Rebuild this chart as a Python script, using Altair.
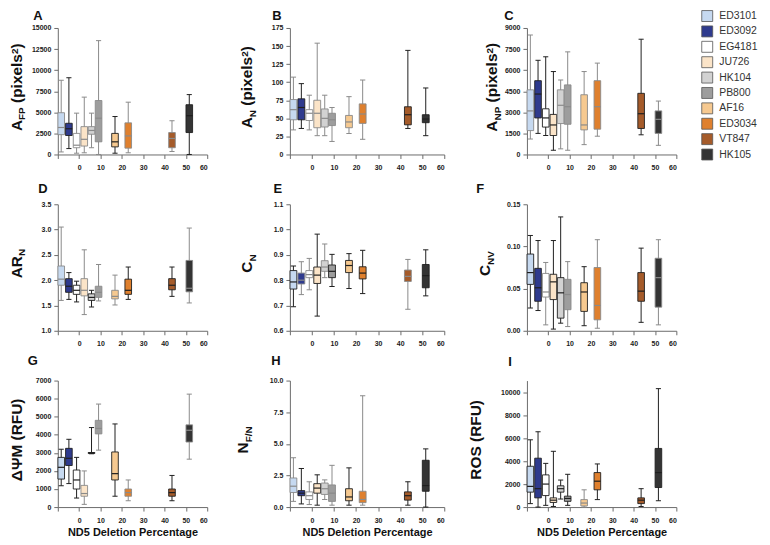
import altair as alt
import pandas as pd

FONT = "Liberation Sans"

# ---------------- data ----------------
strains = ["ED3101", "ED3092", "EG4181", "JU726", "HK104",
           "PB800", "AF16", "ED3034", "VT847", "HK105"]
nd5_pct = [-8.4, -4.8, -1.2, 2.4, 5.8, 9.1, 16.8, 23.0, 43.5, 51.6]
fills = ["#c6d9f0", "#2f3b8e", "#ffffff", "#fbe4c8", "#d2d2d2",
         "#9d9d9d", "#f6c990", "#df802e", "#a55b2a", "#343434"]

x_ticks = [-10, 0, 10, 20, 30, 40, 50, 60]

# five-number summaries per strain: [min, Q1, median, Q3, max]
a_fp = [[300, 2350, 3200, 4950, 8800], [700, 2250, 3050, 3700, 9100],
        [150, 800, 1100, 2500, 4900], [200, 1000, 1800, 3300, 6800],
        [800, 2400, 2850, 3300, 4900], [0, 1500, 4300, 6400, 13500],
        [150, 900, 1500, 2500, 4500], [200, 750, 2200, 3750, 6200],
        [350, 800, 1900, 2600, 4000], [0, 2600, 4600, 5900, 7100]]
a_n = [[34, 48, 62, 76, 107], [36, 48, 65, 77, 98], [34, 47, 57, 62, 82],
       [26, 37, 57, 75, 154], [26, 38, 50, 63, 82], [18, 40, 48, 57, 65],
       [29, 37, 45, 54, 80], [21, 43, 56, 70, 103], [36, 41, 55, 66, 144],
       [26, 44, 49, 55, 92]]
a_np = [[1100, 1700, 3100, 4600, 8500], [1500, 2600, 4300, 5250, 6700],
        [1350, 1950, 2600, 3250, 6950], [300, 1350, 2100, 2850, 5900],
        [400, 2200, 3500, 4600, 5300], [300, 2150, 3400, 4950, 7300],
        [700, 1750, 2100, 4250, 5900], [1300, 1800, 3400, 5250, 6500],
        [1400, 1850, 2900, 4350, 8200], [650, 1500, 2500, 3100, 3800]]
ar_n = [[1.60, 1.90, 2.02, 2.28, 3.05], [1.62, 1.76, 1.88, 2.03, 2.15],
        [1.57, 1.72, 1.80, 1.90, 1.98], [1.32, 1.69, 1.80, 2.03, 2.60],
        [1.47, 1.60, 1.66, 1.73, 1.80], [1.59, 1.66, 1.76, 1.88, 2.31],
        [1.51, 1.63, 1.68, 1.80, 2.10], [1.62, 1.72, 1.80, 2.02, 2.26],
        [1.68, 1.81, 1.90, 2.03, 2.26], [1.55, 1.77, 1.84, 2.39, 3.03]]
c_n = [[0.695, 0.765, 0.793, 0.838, 0.856], [0.743, 0.785, 0.800, 0.828, 0.873],
       [0.762, 0.810, 0.822, 0.838, 0.886], [0.658, 0.787, 0.820, 0.852, 0.982],
       [0.810, 0.835, 0.852, 0.877, 0.943], [0.775, 0.810, 0.835, 0.860, 0.902],
       [0.767, 0.830, 0.858, 0.878, 0.905], [0.747, 0.805, 0.828, 0.853, 0.918],
       [0.685, 0.795, 0.815, 0.840, 0.882], [0.738, 0.770, 0.818, 0.862, 0.920]]
c_nv = [[0.027, 0.055, 0.069, 0.091, 0.113], [0.024, 0.035, 0.051, 0.074, 0.107],
        [0.007, 0.040, 0.046, 0.068, 0.081], [0.002, 0.037, 0.058, 0.067, 0.107],
        [0.009, 0.015, 0.045, 0.063, 0.135], [0.005, 0.025, 0.043, 0.061, 0.082],
        [0.006, 0.023, 0.046, 0.057, 0.076], [0.003, 0.013, 0.030, 0.075, 0.108],
        [0.010, 0.035, 0.047, 0.069, 0.098], [0.007, 0.028, 0.063, 0.086, 0.108]]
dpsi_m = [[1180, 1550, 2200, 2750, 3200], [1300, 2300, 2700, 3250, 3750],
          [500, 1000, 1500, 2050, 2750], [150, 600, 750, 1200, 2000],
          [2950, 2970, 3000, 3020, 4400], [3150, 4050, 4350, 4800, 5700],
          [600, 1500, 1850, 3050, 4600], [350, 600, 800, 1000, 1500],
          [350, 600, 800, 1000, 1750], [2650, 3600, 4250, 4550, 6250]]
n_fn = [[0.45, 1.15, 1.65, 2.3, 3.9], [0.25, 0.9, 1.1, 1.3, 3.05],
        [0.2, 0.6, 0.9, 1.2, 2.0], [0.15, 1.1, 1.5, 1.85, 2.55],
        [0.6, 1.0, 1.45, 1.9, 2.15], [0.15, 0.45, 1.1, 1.75, 3.3],
        [0.15, 0.5, 0.8, 1.45, 3.1], [0.15, 0.35, 0.6, 1.25, 8.8],
        [0.15, 0.55, 0.9, 1.2, 2.0], [0.0, 1.25, 1.7, 3.7, 4.6]]
ros = [[300, 1300, 1800, 3550, 5850], [0, 800, 1600, 4250, 6550],
       [150, 1000, 2000, 2800, 3800], [50, 400, 600, 800, 4850],
       [700, 1300, 1600, 1850, 2350], [150, 500, 750, 950, 2850],
       [0, 100, 350, 650, 1500], [650, 1500, 2250, 3000, 3750],
       [50, 300, 600, 800, 1600], [550, 1700, 3000, 5100, 10300]]

# y-axis tick labels per panel
ticks_a = [0, 2500, 5000, 7500, 10000, 12500, 15000]
ticks_b = [0, 25, 50, 75, 100, 125, 150, 175]
ticks_c = [0, 1500, 3000, 4500, 6000, 7500, 9000]
ticks_d = [1.0, 1.5, 2.0, 2.5, 3.0, 3.5]
ticks_e = [0.6, 0.7, 0.8, 0.9, 1.0, 1.1]
ticks_f = [0.0, 0.05, 0.10, 0.15]
ticks_g = [0, 1000, 2000, 3000, 4000, 5000, 6000, 7000]
ticks_h = [0.0, 2.5, 5.0, 7.5, 10.0]
ticks_i = [0, 2000, 4000, 6000, 8000, 10000]

# ---------------- styling helpers ----------------
GRAY, DARK = "#8a8a8a", "#1f1f1f"
CW = {" ": 278, "(": 333, ")": 333, "/": 278, "2": 556, "A": 722, "C": 722,
      "F": 611, "M": 833, "N": 722, "O": 778, "P": 667, "R": 722, "S": 667,
      "U": 722, "V": 667, "e": 556, "i": 278, "l": 278, "p": 611, "s": 556,
      "x": 556, "Δ": 722, "Ψ": 833}
MAIN, SUB = 15.5, 10.0


def text_w(s, size):
    return sum(CW.get(c, 600) for c in s) * size / 1000.0


LEG = alt.Legend(title=None, orient="none", legendX=646, legendY=-18,
                 direction="vertical", symbolType="square", symbolSize=121,
                 symbolStrokeColor="#555555", symbolStrokeWidth=0.8,
                 labelFont=FONT, labelFontSize=10.5, labelColor="#333333",
                 rowPadding=-0.55, padding=0, labelOffset=6)


def panel(stats, flags, yticks, ydom, yfmt, letter, lxy, tparts, tx, width,
          height, xtitle):
    df = pd.DataFrame(stats, columns=["lo", "q1", "med", "q3", "hi"])
    df["strain"] = strains
    df["nd5"] = nd5_pct
    df["ink"] = [GRAY if f == "G" else DARK for f in flags]
    base = alt.Chart(df).transform_calculate(
        bx1="datum.nd5 - 1.55", bx2="datum.nd5 + 1.55",
        cx1="datum.nd5 - 1.2", cx2="datum.nd5 + 1.2")
    xs = alt.Scale(domain=[-10, 60], nice=False, zero=False)
    ys = alt.Scale(domain=ydom, nice=False, zero=False)
    if xtitle:
        xax = alt.Axis(values=x_ticks, labelPadding=5, titlePadding=4,
                       labelExpr="datum.value < 0 ? '' : datum.label",
                       title=xtitle)
    else:
        xax = alt.Axis(values=x_ticks, labelPadding=5,
                       labelExpr="datum.value < 0 ? '' : datum.label",
                       title=None)
    yax = alt.Axis(values=yticks, format=yfmt, labelPadding=3, title=None)
    ink = alt.Color("ink:N", scale=None)

    whisk = base.mark_rule(strokeWidth=1).encode(
        x=alt.X("nd5:Q", scale=xs, axis=xax),
        y=alt.Y("lo:Q", scale=ys, axis=yax), y2="hi:Q", color=ink)
    box = base.mark_rect(strokeWidth=0.9).encode(
        x=alt.X("bx1:Q", scale=xs, axis=xax), x2="bx2:Q",
        y=alt.Y("q1:Q", scale=ys, axis=yax), y2="q3:Q",
        fill=alt.Fill("strain:N", scale=alt.Scale(domain=strains, range=fills),
                      legend=LEG),
        stroke=alt.Stroke("ink:N", scale=None))
    med = base.mark_rule(strokeWidth=1.2).encode(
        x=alt.X("bx1:Q", scale=xs, axis=xax), x2="bx2:Q",
        y=alt.Y("med:Q", scale=ys, axis=yax), color=ink)
    cap_lo = base.mark_rule(strokeWidth=1).encode(
        x=alt.X("cx1:Q", scale=xs, axis=xax), x2="cx2:Q",
        y=alt.Y("lo:Q", scale=ys, axis=yax), color=ink)
    cap_hi = base.mark_rule(strokeWidth=1).encode(
        x=alt.X("cx1:Q", scale=xs, axis=xax), x2="cx2:Q",
        y=alt.Y("hi:Q", scale=ys, axis=yax), color=ink)

    layers = [whisk, box, med, cap_lo, cap_hi]

    lab = alt.Chart(pd.DataFrame({"t": [letter]})).mark_text(
        font=FONT, fontSize=13, fontWeight="bold", align="center",
        baseline="middle", color="#111111").encode(
        text="t:N", x=alt.value(lxy[0]), y=alt.value(lxy[1]))
    layers.append(lab)

    center = height / 2.0 - 4
    if len(tparts) == 1:
        t = tparts[0][0]
        layers.append(alt.Chart(pd.DataFrame({"t": [t]})).mark_text(
            font=FONT, fontSize=MAIN, fontWeight="bold", angle=270,
            align="center", baseline="alphabetic", color="#111111").encode(
            text="t:N", x=alt.value(tx), y=alt.value(center)))
    else:
        sizes = {"n": MAIN, "sub": SUB, "sup": SUB}
        shift = {"n": 0, "sub": 3.5, "sup": -4}
        total = sum(text_w(t, sizes[k]) for t, k in tparts)
        ypos = center + total / 2.0
        for t, k in tparts:
            if t.startswith(" "):
                ypos -= text_w(" ", sizes[k])
                t = t[1:]
            layers.append(alt.Chart(pd.DataFrame({"t": [t]})).mark_text(
                font=FONT, fontSize=sizes[k], fontWeight="bold", angle=270,
                align="left", baseline="alphabetic", color="#111111").encode(
                text="t:N", x=alt.value(tx + shift[k]), y=alt.value(ypos)))
            ypos -= text_w(t, sizes[k])

    return alt.layer(*layers).properties(width=width, height=height)


WIDTHS = [150, 155, 150]
H = 127
XT = "ND5 Deletion Percentage"

pix = [(" (pixels", "n"), ("2", "sup"), (")", "n")]
specs = [
    (a_fp, "GBGGGGBGGB", ticks_a, [0, 15000], "d", "A", (-20, -12),
     [("A", "n"), ("FP", "sub")] + pix, -36, 0, None),
    (a_n, "GBGGGGGGBB", ticks_b, [0, 175], "d", "B", (-13, -12),
     [("A", "n"), ("N", "sub")] + pix, -38, 1, None),
    (a_np, "GBBBGGGGBG", ticks_c, [0, 9000], "d", "C", (-18, -12),
     [("A", "n"), ("NP", "sub")] + pix, -30, 2, None),
    (ar_n, "GBBGBGGBBG", ticks_d, [1.0, 3.5], ".1f", "D", (-15, -15),
     [("AR", "n"), ("N", "sub")], -36, 0, None),
    (c_n, "BGGBGBBBGB", ticks_e, [0.6, 1.1], ".1f", "E", (-12, -15),
     [("C", "n"), ("N", "sub")], -38, 1, None),
    (c_nv, "BBGBBGBGBG", ticks_f, [0, 0.15], ".2f", "F", (-47, -15),
     [("C", "n"), ("NV", "sub")], -37, 2, None),
    (dpsi_m, "BBBGBGBGBG", ticks_g, [0, 7000], "d", "G", (-25, -20),
     [("ΔΨM (RFU)", "n")], -36, 0, XT),
    (n_fn, "GBGBGGBGBB", ticks_h, [0, 10], ".1f", "H", (-14, -20),
     [("N", "n"), ("F/N", "sub")], -42, 1, XT),
    (ros, "BBBBBBGBBB", ticks_i, [0, 11000], "d", "I", (-17, -19),
     [("ROS (RFU)", "n")], -46, 2, XT),
]

panels = [panel(s, f, yt, yd, yf, L, lxy, tp, tx, WIDTHS[c], H, xt)
          for (s, f, yt, yd, yf, L, lxy, tp, tx, c, xt) in specs]

chart = alt.concat(*panels, columns=3, spacing={"row": 50, "column": 83},
                   bounds="flush").properties(
    padding={"left": 1, "top": 1, "right": 4, "bottom": 2}
).configure_view(stroke=None).configure_axis(
    labelFont=FONT, labelFontSize=7, labelFontWeight="bold",
    labelColor="#1a1a1a", domainColor="#6b6b6b", tickColor="#6b6b6b",
    tickSize=4, grid=False, titleFont=FONT, titleFontSize=11,
    titleFontWeight="bold", titleColor="#111111")

chart.save("out.html", embed_options={"renderer": "svg", "actions": False})
